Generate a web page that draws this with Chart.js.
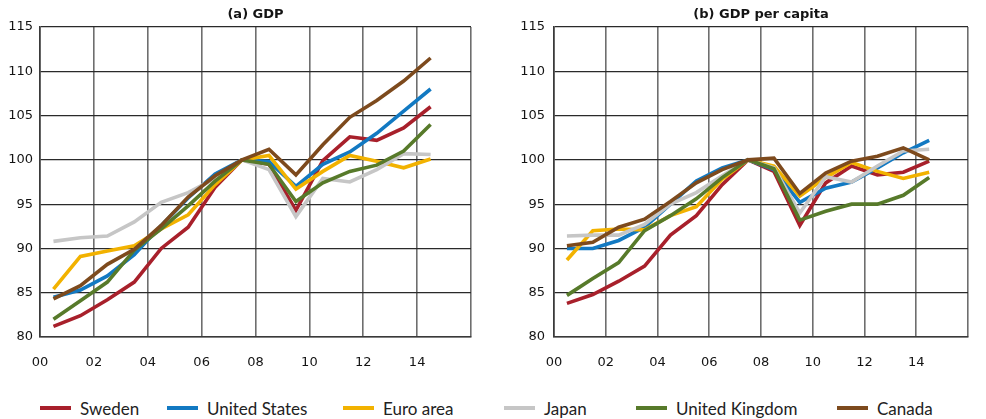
<!DOCTYPE html>
<html>
<head>
<meta charset="utf-8">
<title>GDP and GDP per capita, 2007 = 100</title>
<script src="https://cdn.jsdelivr.net/npm/chart.js@4/dist/chart.umd.min.js"></script>
<style>
  html, body { margin: 0; padding: 0; background: #fff; width: 986px; height: 419px; overflow: hidden; }
  canvas { position: absolute; top: 0; }
  #legend { position: absolute; left: 0; top: 396px; width: 986px; height: 24px;
            font-family: Lato, "Open Sans", sans-serif; font-size: 17px; color: #222; }
  .item { position: absolute; top: 0; height: 24px; display: flex; align-items: center; white-space: nowrap; }
  .sw { display: inline-block; width: 31px; height: 4px; margin-right: 9px; }
</style>
</head>
<body>
<canvas id="gdp" width="490" height="380" style="left:0px"></canvas>
<canvas id="gdpPc" width="490" height="380" style="left:496px"></canvas>
<div id="legend"></div>

<script>
// Years 2000-2014, index 2007 = 100
const years = [2000, 2001, 2002, 2003, 2004, 2005, 2006, 2007, 2008, 2009, 2010, 2011, 2012, 2013, 2014];
const xTickLabels = ['00', '02', '04', '06', '08', '10', '12', '14'];

const seriesNames = ['Sweden', 'United States', 'Euro area', 'Japan', 'United Kingdom', 'Canada'];
const seriesColors = ['#A8202B', '#1279C2', '#F2B200', '#C6C6C6', '#577A2A', '#7D4A1D'];

// (a) GDP
const gdpSweden = [81.2, 82.4, 84.2, 86.2, 90.0, 92.4, 96.9, 100, 99.5, 94.3, 99.9, 102.6, 102.2, 103.6, 106.0];
const gdpUS     = [84.5, 85.3, 86.9, 89.3, 92.6, 95.7, 98.4, 100, 99.8, 97.0, 99.5, 100.9, 103.0, 105.5, 108.0];
const gdpEuro   = [85.4, 89.1, 89.7, 90.3, 92.2, 93.8, 97.2, 100, 100.5, 96.7, 98.7, 100.5, 99.85, 99.1, 100.1];
const gdpJapan  = [90.8, 91.2, 91.4, 93.0, 95.2, 96.3, 97.9, 100, 98.9, 93.6, 97.9, 97.5, 98.9, 100.7, 100.6];
const gdpUK     = [82.0, 84.1, 86.2, 89.8, 92.2, 94.8, 97.6, 100, 99.5, 95.3, 97.4, 98.7, 99.4, 101.0, 104.0];
const gdpCanada = [84.3, 85.8, 88.2, 89.9, 92.6, 95.8, 98.2, 100, 101.2, 98.3, 101.7, 104.8, 106.7, 108.9, 111.5];

// (b) GDP per capita
const pcSweden = [83.8, 84.8, 86.3, 88.0, 91.5, 93.7, 97.2, 100, 98.7, 92.6, 97.4, 99.3, 98.3, 98.6, 99.85];
const pcUS     = [90.0, 90.0, 90.9, 92.4, 95.0, 97.6, 99.1, 100, 98.9, 95.2, 96.8, 97.5, 99.1, 100.8, 102.2];
const pcEuro   = [88.7, 92.0, 92.2, 92.1, 93.7, 94.7, 97.8, 100, 99.3, 95.9, 98.0, 99.7, 98.7, 97.9, 98.6];
const pcJapan  = [91.4, 91.5, 91.5, 92.7, 95.0, 96.3, 98.2, 100, 99.1, 94.0, 98.1, 97.5, 99.3, 101.0, 101.2];
const pcUK     = [84.7, 86.6, 88.4, 92.0, 93.7, 95.6, 98.0, 100, 99.0, 93.2, 94.2, 95.0, 95.0, 96.0, 98.0];
const pcCanada = [90.3, 90.7, 92.4, 93.3, 95.3, 97.4, 98.9, 100, 100.2, 96.2, 98.5, 99.85, 100.4, 101.35, 100.0];

const gdpSeries = [gdpSweden, gdpUS, gdpEuro, gdpJapan, gdpUK, gdpCanada];
const pcSeries  = [pcSweden, pcUS, pcEuro, pcJapan, pcUK, pcCanada];

const tickFont = { family: '"DejaVu Sans", sans-serif', size: 13 };
const textColor = '#141414';

// Annual values are plotted at mid-year on a two-digit year axis
function buildDatasets(series) {
  return series.map((vals, i) => ({
    label: seriesNames[i],
    data: vals.map((v, k) => ({ x: years[k] - 2000 + 0.5, y: v })),
    borderColor: seriesColors[i],
    backgroundColor: seriesColors[i],
    borderWidth: 3.6,
    pointRadius: 0,
    tension: 0,
    fill: false,
    order: series.length - i,
    borderJoinStyle: 'miter',
    borderCapStyle: 'butt'
  }));
}

function makePanel(id, title, series, axisWidth, labelPad, padRight) {
  return new Chart(document.getElementById(id), {
    type: 'line',
    data: { datasets: buildDatasets(series) },
    options: {
      responsive: false,
      animation: false,
      events: [],
      layout: { padding: { left: 0, right: padRight, top: 0, bottom: 0 } },
      plugins: {
        legend: { display: false },
        tooltip: { enabled: false },
        title: {
          display: true,
          text: title,
          fullSize: false,
          color: textColor,
          font: { family: '"DejaVu Sans", sans-serif', size: 13, weight: 'bold', lineHeight: 1.2 },
          padding: { top: 7, bottom: 4.4 }
        }
      },
      scales: {
        x: {
          type: 'linear',
          min: 0, max: 16,
          ticks: {
            stepSize: 2,
            autoSkip: false,
            maxRotation: 0,
            padding: 18,
            color: textColor,
            font: tickFont,
            callback: (v) => xTickLabels[Math.round(v / 2)] ?? ''
          },
          grid: { color: '#6e6e6e', lineWidth: 1.6, drawTicks: false },
          border: { color: '#3a3a3a', width: 1.6 },
          afterFit: (s) => { s.height = 43; }
        },
        y: {
          min: 80, max: 115,
          ticks: { stepSize: 5, padding: labelPad, color: textColor, font: tickFont },
          grid: { color: '#2a2a2a', lineWidth: 1.2, drawTicks: false },
          border: { color: '#3a3a3a', width: 1.6 },
          afterFit: (s) => { s.width = axisWidth; }
        }
      }
    }
  });
}

makePanel('gdp', '(a) GDP', gdpSeries, 40, 7, 19);
makePanel('gdpPc', '(b) GDP per capita', pcSeries, 58, 9, 1);

// Shared legend below both panels
const legendLeft = [40, 167, 343, 504, 636, 837];
const legend = document.getElementById('legend');
seriesNames.forEach((name, i) => {
  const item = document.createElement('div');
  item.className = 'item';
  item.style.left = legendLeft[i] + 'px';
  const sw = document.createElement('span');
  sw.className = 'sw';
  sw.style.background = seriesColors[i];
  const txt = document.createElement('span');
  txt.textContent = name;
  item.appendChild(sw);
  item.appendChild(txt);
  legend.appendChild(item);
});
</script>
</body>
</html>
